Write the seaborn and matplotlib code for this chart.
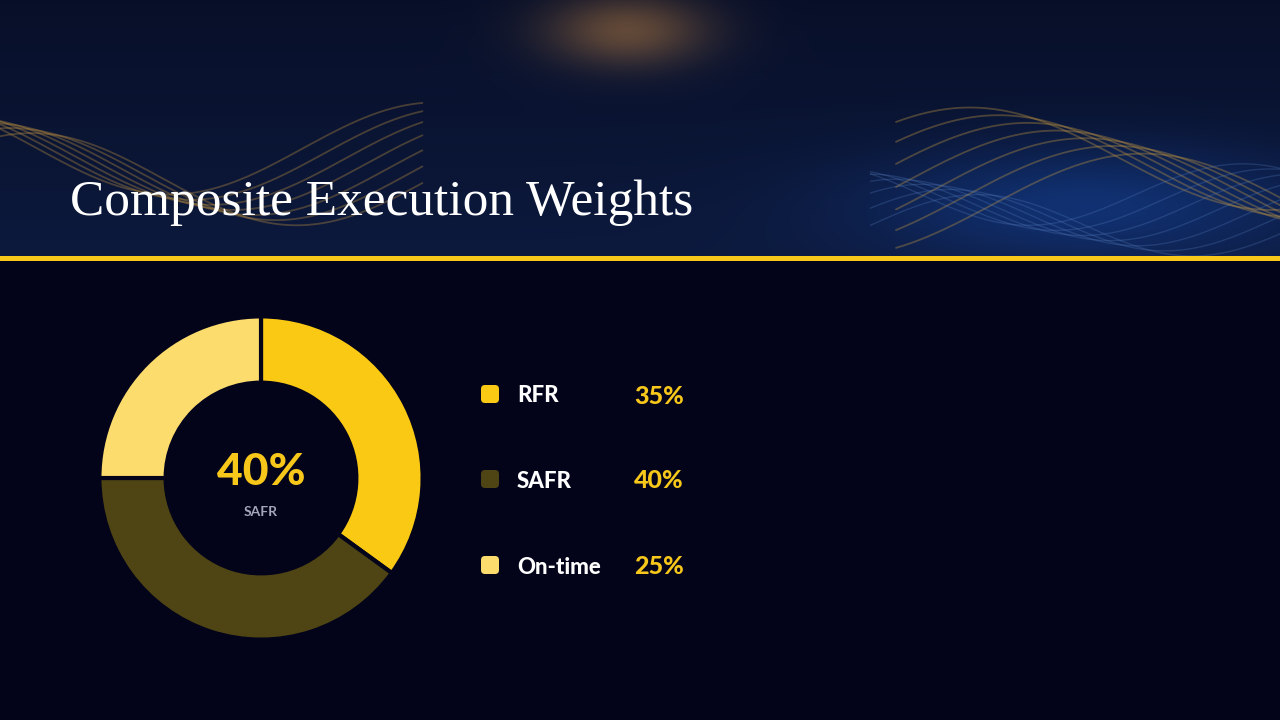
import numpy as np
import matplotlib.pyplot as plt
import seaborn as sns
from matplotlib.patches import FancyBboxPatch

# ==================== DATA ====================
labels = ['RFR', 'SAFR', 'On-time']
weights = [35, 40, 25]
colors = ['#F9C914', '#4E4414', '#FDDC6E']
center_value = '40%'
center_label = 'SAFR'
title = 'Composite Execution Weights'

BG = '#03031A'
GOLD = '#F7C81A'

sns.set_theme(style='dark')
plt.rcParams['font.family'] = ['Lato', 'DejaVu Sans']

fig = plt.figure(figsize=(12.8, 7.2), dpi=100, facecolor=BG)

# ==================== HEADER BANNER ====================
hdr = fig.add_axes([0, 1 - 256 / 720, 1, 256 / 720])
ny, nx = 128, 640
yy, xx = np.mgrid[0:1:ny * 1j, 0:1:nx * 1j]
glow = np.exp(-((xx - 0.49) ** 2) / 0.004 - ((yy - 0.12) ** 2) / 0.02)
blue = np.exp(-((xx - 0.85) ** 2) / 0.03 - ((yy - 0.8) ** 2) / 0.05)
r = 0.03 + 0.02 * yy + 0.35 * glow + 0.02 * blue
g = 0.06 + 0.04 * yy + 0.22 * glow + 0.10 * blue
b = 0.16 + 0.08 * yy + 0.05 * glow + 0.22 * blue
img = np.clip(np.dstack([r, g, b]), 0, 1)
hdr.imshow(img, aspect='auto', extent=[0, 1, 0, 1], origin='upper')
# soft golden waves on both sides
t = np.linspace(0, 1, 300)
for k in range(7):
    hdr.plot(t * 0.33, 0.30 + 0.18 * np.sin(t * 5 + 1.2 + k * 0.25) + 0.02 * k,
             color='#D9A441', alpha=0.30, lw=1.3)
    hdr.plot(0.70 + t * 0.30, 0.20 + 0.20 * np.sin(t * 4 - 1.0 + k * 0.3) + 0.03 * k,
             color='#C89A40', alpha=0.35, lw=1.3)
    hdr.plot(0.68 + t * 0.32, 0.12 + 0.12 * np.sin(t * 6 + k * 0.4) + 0.02 * k,
             color='#5C86C8', alpha=0.25, lw=1.0)
hdr.set_xlim(0, 1)
hdr.set_ylim(0, 1)
hdr.axis('off')
hdr.text(70 / 1280, (256 - 215) / 256, title,
         family=['Liberation Serif', 'DejaVu Serif'],
         fontsize=37, color='white', va='baseline', ha='left')

# gold rule under the header
rule = fig.add_axes([0, 1 - 261 / 720, 1, 5 / 720])
rule.set_facecolor(GOLD)
rule.set_xticks([])
rule.set_yticks([])
for s in rule.spines.values():
    s.set_visible(False)

# ==================== DONUT ====================
ax = fig.add_axes([101 / 1280, 1 - 638 / 720, 320 / 1280, 320 / 720])
ax.set_facecolor(BG)
ax.pie(weights, colors=colors, startangle=90, counterclock=False, radius=1.0,
       wedgeprops=dict(width=0.41, edgecolor=BG, linewidth=3))
ax.set_xlim(-0.99, 0.99)
ax.set_ylim(-0.99, 0.99)
ax.set_aspect('equal')
ax.text(0, 0.04, center_value, ha='center', va='center', fontsize=32,
        fontweight='black', color=GOLD)
ax.text(0, -0.21, center_label, ha='center', va='center', fontsize=10,
        fontweight='bold', color='#A3A6B8')

# ==================== LEGEND ====================
lg = fig.add_axes([0, 0, 1, 1], facecolor='none')
lg.set_xlim(0, 1280)
lg.set_ylim(720, 0)
lg.axis('off')
rows_y = [394, 479, 565]
for lab, w, c, y in zip(labels, weights, colors, rows_y):
    lg.add_patch(FancyBboxPatch((481 + 2, y - 9 + 2), 14, 14,
                                boxstyle='round,pad=2,rounding_size=4',
                                facecolor=c, edgecolor='none'))
    lg.text(517, y + 2, lab, fontsize=16, fontweight='black', color='white',
            va='center', ha='left')
    lg.text(634, y + 2, f'{w}%', fontsize=18, fontweight='black', color=GOLD,
            va='center', ha='left')

fig.savefig('out.png', dpi=100, facecolor=BG)
